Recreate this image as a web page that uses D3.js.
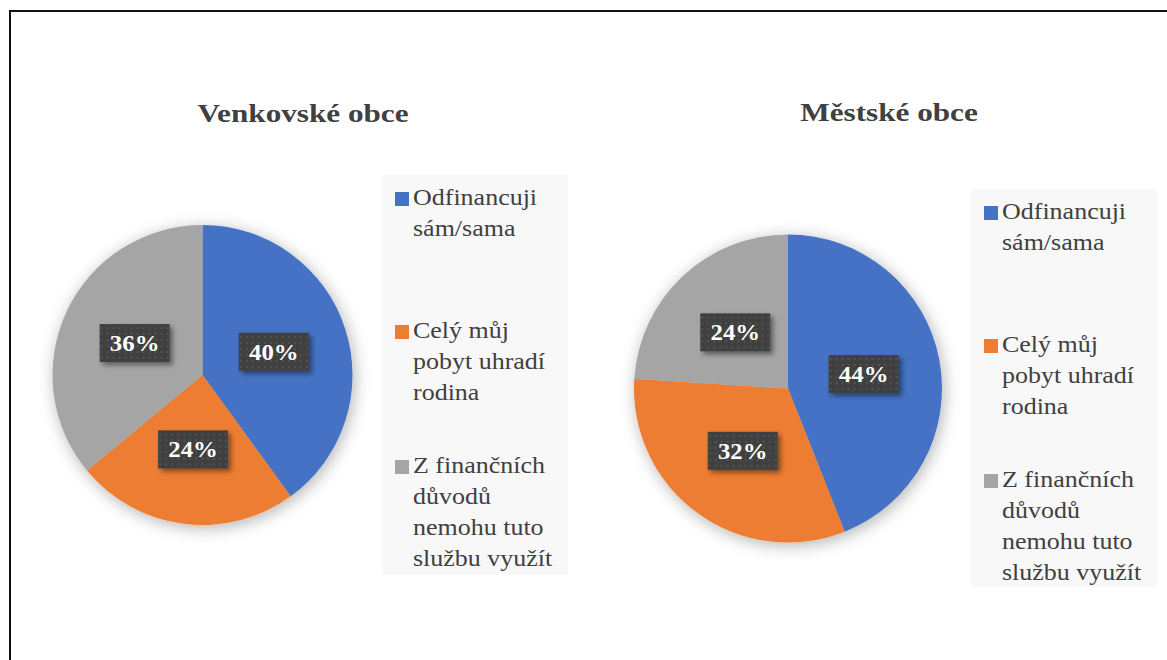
<!DOCTYPE html>
<html>
<head>
<meta charset="utf-8">
<script src="https://cdn.jsdelivr.net/npm/d3@7"></script>
<style>
  body { margin: 0; background: #fff; }
  text { font-family: "Liberation Serif", "Times New Roman", serif; }
</style>
</head>
<body>
<div id="chart"></div>
<script>
/**
 * DATA
 * */
const categories = [
  "Odfinancuji sám/sama",
  "Celý můj pobyt uhradí rodina",
  "Z finančních důvodů nemohu tuto službu využít"
];
// how the legend wraps each category
const legendLines = [
  ["Odfinancuji", "sám/sama"],
  ["Celý můj", "pobyt uhradí", "rodina"],
  ["Z finančních", "důvodů", "nemohu tuto", "službu využít"]
];
const titles = ["Venkovské obce", "Městské obce"];
const ruralValues = [40, 24, 36];
const urbanValues = [44, 32, 24];
const colors = ["#4472C4", "#ED7D31", "#A5A5A5"];

/**
 * CONSTANTS
 * */
const width = 1167,
  height = 660;

// placement of each of the two pies
const charts = [
  { title: titles[0], values: ruralValues, cx: 202.5, cy: 375, r: 150,
    titleX: 303, titleY: 122, legend: { x: 382, y: 175, w: 186, h: 400 } },
  { title: titles[1], values: urbanValues, cx: 788, cy: 388.5, r: 154,
    titleX: 889, titleY: 121, legend: { x: 971, y: 189, w: 186, h: 398 } }
];

const entryOffsets = [0, 133, 268];
const lineHeight = 31;

const svg = d3.select("#chart")
  .append("svg")
  .attr("width", width)
  .attr("height", height);

svg.append("rect")
  .attr("width", width)
  .attr("height", height)
  .attr("fill", "#fff");

// border, runs off the right and bottom edge
svg.append("rect")
  .attr("x", 10)
  .attr("y", 11)
  .attr("width", width + 20)
  .attr("height", height + 20)
  .attr("fill", "none")
  .attr("stroke", "#111")
  .attr("stroke-width", 2);

const defs = svg.append("defs");

defs.append("filter")
  .attr("id", "pieShadow")
  .attr("x", "-20%").attr("y", "-20%")
  .attr("width", "140%").attr("height", "140%")
  .append("feDropShadow")
  .attr("dx", 2).attr("dy", 3)
  .attr("stdDeviation", 8)
  .attr("flood-color", "#000")
  .attr("flood-opacity", 0.3);

defs.append("filter")
  .attr("id", "boxShadow")
  .attr("x", "-30%").attr("y", "-30%")
  .attr("width", "160%").attr("height", "160%")
  .append("feDropShadow")
  .attr("dx", 3).attr("dy", 3)
  .attr("stdDeviation", 2.5)
  .attr("flood-color", "#000")
  .attr("flood-opacity", 0.45);

// dotted texture on the label boxes
const pattern = defs.append("pattern")
  .attr("id", "dots")
  .attr("width", 6)
  .attr("height", 6)
  .attr("patternUnits", "userSpaceOnUse");
pattern.append("rect").attr("width", 6).attr("height", 6).attr("fill", "#404040");
pattern.append("circle").attr("cx", 3).attr("cy", 3).attr("r", 0.9).attr("fill", "#5a5a5a");

const pie = d3.pie().sort(null).value(d => d);

charts.forEach(c => drawPie(c));

function drawPie(c) {
  const arc = d3.arc().innerRadius(0).outerRadius(c.r);
  const arcs = pie(c.values);

  // title
  svg.append("text")
    .attr("transform", `translate(${c.titleX},${c.titleY}) scale(1.2,1)`)
    .attr("text-anchor", "middle")
    .attr("font-size", 26)
    .attr("font-weight", "bold")
    .attr("fill", "#404040")
    .text(c.title);

  const g = svg.append("g")
    .attr("transform", `translate(${c.cx},${c.cy})`);

  g.append("g")
    .attr("filter", "url(#pieShadow)")
    .selectAll("path")
    .data(arcs)
    .join("path")
    .attr("d", arc)
    .attr("fill", (d, i) => colors[i]);

  // data labels
  const label = g.selectAll(".label")
    .data(arcs)
    .join("g")
    .attr("class", "label")
    .attr("transform", d => `translate(${arc.centroid(d)})`);

  label.append("rect")
    .attr("x", -35)
    .attr("y", -19)
    .attr("width", 70)
    .attr("height", 38)
    .attr("fill", "url(#dots)")
    .attr("filter", "url(#boxShadow)");

  label.append("text")
    .attr("transform", `scale(1.08,1)`)
    .attr("y", 8)
    .attr("text-anchor", "middle")
    .attr("font-size", 23)
    .attr("font-weight", "bold")
    .attr("fill", "#fff")
    .text(d => `${d.data}%`);

  // legend
  const lg = svg.append("g")
    .attr("transform", `translate(${c.legend.x},${c.legend.y})`);

  lg.append("rect")
    .attr("width", c.legend.w)
    .attr("height", c.legend.h)
    .attr("fill", "#f8f8f8");

  const entry = lg.selectAll(".entry")
    .data(categories)
    .join("g")
    .attr("class", "entry")
    .attr("transform", (d, i) => `translate(0,${entryOffsets[i]})`);

  entry.append("rect")
    .attr("x", 13)
    .attr("y", 17)
    .attr("width", 14)
    .attr("height", 14)
    .attr("fill", (d, i) => colors[i]);

  entry.append("text")
    .attr("transform", `translate(31,30) scale(1.13,1)`)
    .attr("font-size", 23)
    .attr("fill", "#404040")
    .selectAll("tspan")
    .data((d, i) => legendLines[i])
    .join("tspan")
    .attr("x", 0)
    .attr("y", (d, j) => j * lineHeight)
    .text(d => d);
}
</script>
</body>
</html>
